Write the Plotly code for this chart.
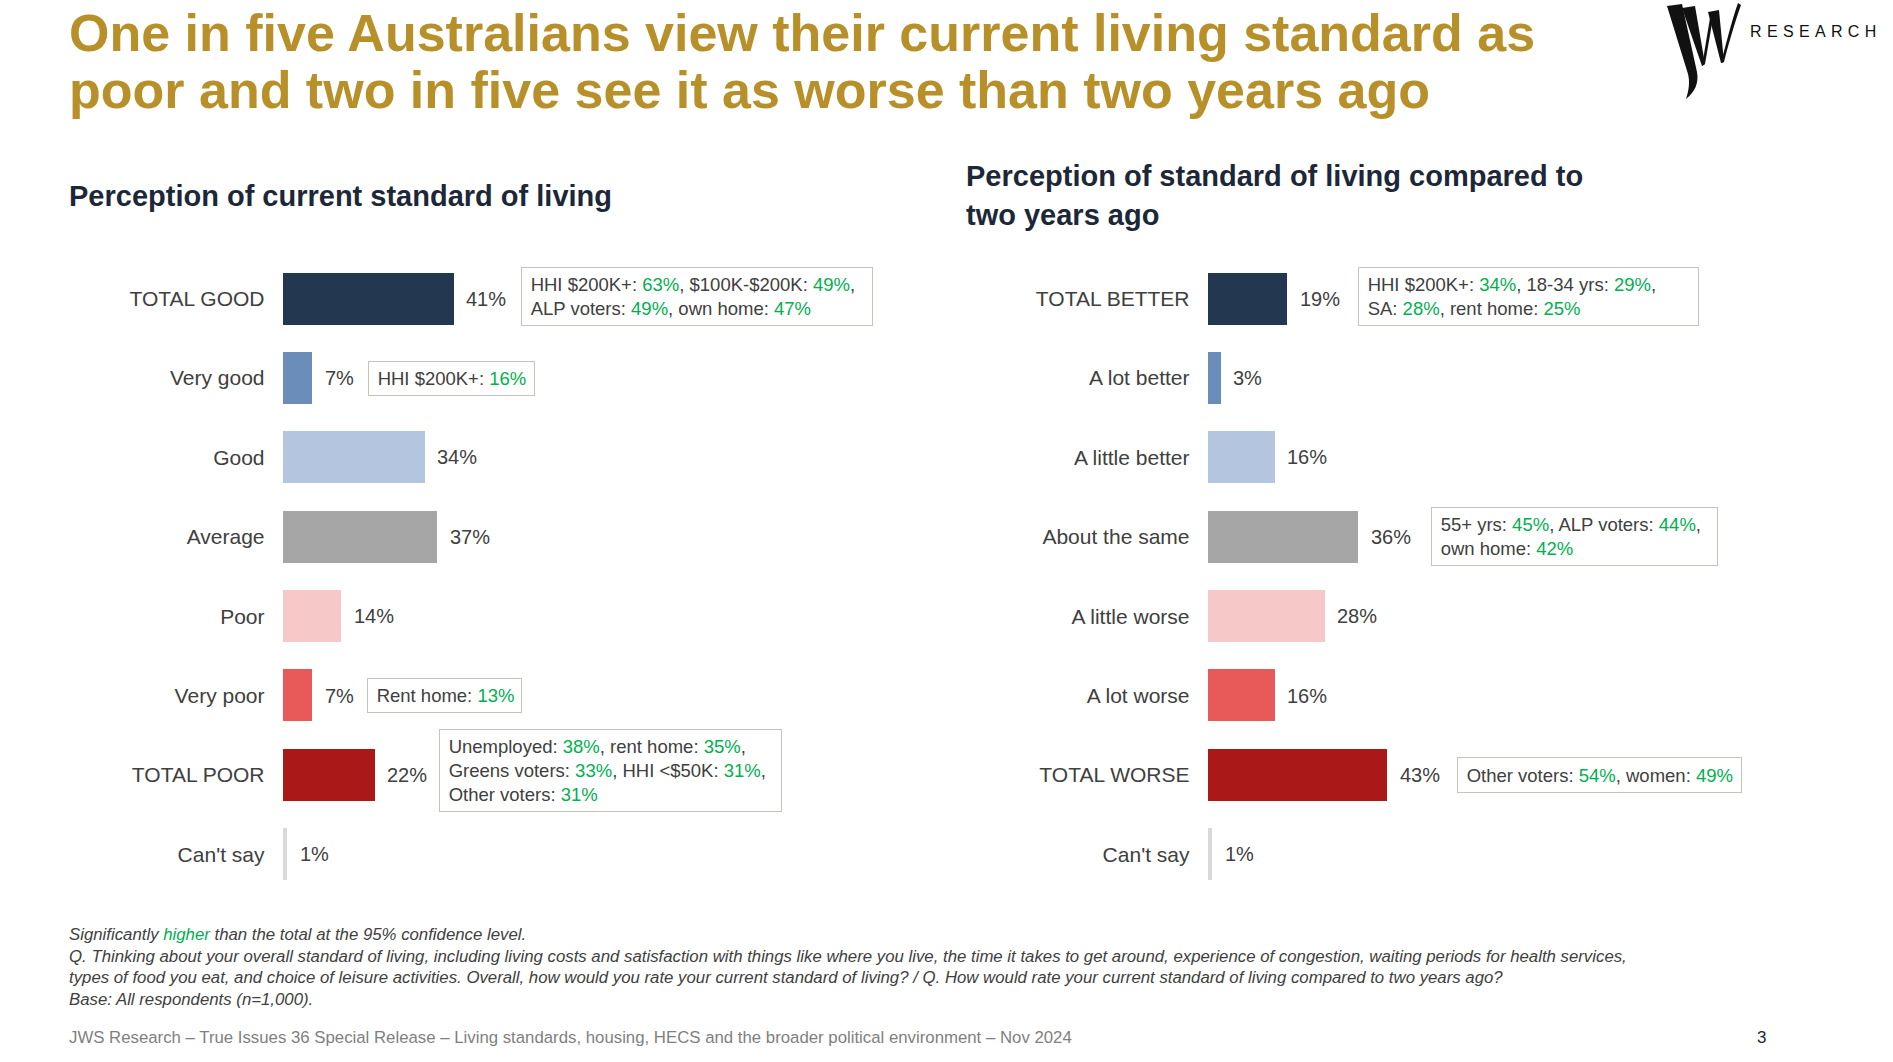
import plotly.graph_objects as go

W, H = 1893, 1062
FONT = "Liberation Sans, Arial, sans-serif"

# ------------------------------------------------------------------ data
left_categories = ["TOTAL GOOD", "Very good", "Good", "Average", "Poor",
                   "Very poor", "TOTAL POOR", "Can't say"]
left_values = [41, 7, 34, 37, 14, 7, 22, 1]

right_categories = ["TOTAL BETTER", "A lot better", "A little better", "About the same",
                    "A little worse", "A lot worse", "TOTAL WORSE", "Can't say"]
right_values = [19, 3, 16, 36, 28, 16, 43, 1]

bar_colors = ["#243750", "#6A8DBA", "#B4C6DF", "#A6A6A6",
              "#F7C8C8", "#E85A5A", "#AA1818", "#D9D9D9"]

# significantly-higher sub-groups (label, %), one inner list per text line
left_callouts = {
    "TOTAL GOOD": [[("HHI $200K+", 63), ("$100K-$200K", 49)],
                   [("ALP voters", 49), ("own home", 47)]],
    "Very good": [[("HHI $200K+", 16)]],
    "Very poor": [[("Rent home", 13)]],
    "TOTAL POOR": [[("Unemployed", 38), ("rent home", 35)],
                   [("Greens voters", 33), ("HHI <$50K", 31)],
                   [("Other voters", 31)]],
}
right_callouts = {
    "TOTAL BETTER": [[("HHI $200K+", 34), ("18-34 yrs", 29)],
                     [("SA", 28), ("rent home", 25)]],
    "About the same": [[("55+ yrs", 45), ("ALP voters", 44)],
                       [("own home", 42)]],
    "TOTAL WORSE": [[("Other voters", 54), ("women", 49)]],
}

title_lines = ["One in five Australians view their current living standard as",
               "poor and two in five see it as worse than two years ago"]
left_subtitle = ["Perception of current standard of living"]
right_subtitle = ["Perception of standard of living compared to", "two years ago"]

note_lines = [
    "Q. Thinking about your overall standard of living, including living costs and satisfaction with things like where you live, the time it takes to get around, experience of congestion, waiting periods for health services,",
    "types of food you eat, and choice of leisure activities. Overall, how would you rate your current standard of living? / Q. How would rate your current standard of living compared to two years ago?",
    "Base: All respondents (n=1,000).",
]
source_text = "JWS Research \u2013 True Issues 36 Special Release \u2013 Living standards, housing, HECS and the broader political environment \u2013 Nov 2024"
page_number = "3"

# ------------------------------------------------------------------ layout / style
GOLD = "#B8902A"
NAVY = "#1C2738"
TEXT = "#404040"
GREEN = "#00B050"
BOX = "#C4C4BA"
OFF = 0  # page body margin is removed by the post script below

PX_PER_PCT = 4.17
LEFT_X0, RIGHT_X0 = 282.5, 1207.5
Y_TOP, Y_BOT = 259.1, 893.9
CALLOUT_FONT = 18.5

# callout box geometry in pixels: xshift from bar end, outer width, outer height, yshift
callout_geom = {
    "TOTAL GOOD": (68, 352, 57, 2),
    "Very good": (56, 167, 34, 0),
    "Very poor": (55, 155, 32, 0),
    "TOTAL POOR": (65, 343, 78, 4),
    "TOTAL BETTER": (71, 341, 57, 2),
    "About the same": (73, 287, 56, 0),
    "TOTAL WORSE": (70, 285, 36, 0),
}


def px(x):
    return (x - OFF) / W


def py(y):
    return 1 - (y - OFF) / H


def green(s):
    return f"<span style='color:{GREEN}'>{s}</span>"


def callout_text(lines):
    out = []
    for line in lines:
        parts = [f"{lab.replace('<', '&lt;')}: {green(str(v) + '%')}" for lab, v in line]
        out.append("\u2005" + ", ".join(parts))
    return ",<br>".join(out)


fig = go.Figure()
for cats, vals, xa, ya in [(left_categories, left_values, "x", "y"),
                           (right_categories, right_values, "x2", "y2")]:
    fig.add_trace(go.Bar(
        x=vals, y=cats, orientation="h", xaxis=xa, yaxis=ya,
        marker=dict(color=bar_colors, line=dict(width=0)),
        width=0.655, hoverinfo="skip", showlegend=False,
    ))

ydom = [py(Y_BOT), py(Y_TOP)]
span = 100 * PX_PER_PCT
axis_y = dict(domain=ydom, type="category", range=[7.5, -0.5], showgrid=False,
              zeroline=False, showline=False, ticks="", ticklabelstandoff=17,
              tickfont=dict(family=FONT, size=21, color=TEXT), fixedrange=True)
fig.update_layout(
    width=W, height=H, margin=dict(l=0, r=0, t=0, b=0),
    paper_bgcolor="white", plot_bgcolor="white", bargap=0,
    font=dict(family=FONT, color=TEXT),
    xaxis=dict(domain=[px(LEFT_X0), px(LEFT_X0 + span)], range=[0, 100], visible=False, fixedrange=True),
    xaxis2=dict(domain=[px(RIGHT_X0), px(RIGHT_X0 + span)], range=[0, 100], visible=False, fixedrange=True),
    yaxis=dict(axis_y, anchor="x", categoryarray=left_categories, categoryorder="array"),
    yaxis2=dict(axis_y, anchor="x2", categoryarray=right_categories, categoryorder="array"),
)

ann = []
# value labels + callouts
for cats, vals, calls, xa, ya in [(left_categories, left_values, left_callouts, "x", "y"),
                                  (right_categories, right_values, right_callouts, "x2", "y2")]:
    for c, v in zip(cats, vals):
        ann.append(dict(x=v, y=c, xref=xa, yref=ya, text=f"{v}%", showarrow=False,
                        xanchor="left", yanchor="middle", xshift=11,
                        font=dict(family=FONT, size=20, color=TEXT)))
        if c in calls:
            xs, bw, bh, ys = callout_geom[c]
            pad = 4
            n = len(calls[c])
            inner_h = max(bh - 2 * (pad + 1), n * 1.3 * CALLOUT_FONT + 1)
            ann.append(dict(x=v, y=c, xref=xa, yref=ya, text=callout_text(calls[c]),
                            showarrow=False, xanchor="left", yanchor="middle",
                            xshift=xs, yshift=ys, align="left", valign="middle",
                            width=bw - 2 * (pad + 1), height=inner_h,
                            borderpad=pad, borderwidth=1, bordercolor=BOX, bgcolor="white",
                            font=dict(family=FONT, size=CALLOUT_FONT, color=TEXT)))

# titles
for line, y in zip(title_lines, [33, 90]):
    ann.append(dict(x=px(67), y=py(y), xref="paper", yref="paper", text=f"<b>{line}</b>",
                    showarrow=False, xanchor="left", yanchor="middle",
                    font=dict(family=FONT, size=52, color=GOLD)))
for line, y in zip(left_subtitle, [195.6]):
    ann.append(dict(x=px(67), y=py(y), xref="paper", yref="paper", text=f"<b>{line}</b>",
                    showarrow=False, xanchor="left", yanchor="middle",
                    font=dict(family=FONT, size=29, color=NAVY)))
for line, y in zip(right_subtitle, [176.3, 215]):
    ann.append(dict(x=px(964), y=py(y), xref="paper", yref="paper", text=f"<b>{line}</b>",
                    showarrow=False, xanchor="left", yanchor="middle",
                    font=dict(family=FONT, size=29, color=NAVY)))

# notes
ann.append(dict(x=px(67), y=py(934.5), xref="paper", yref="paper",
                text=f"<i>Significantly {green('higher')} than the total at the 95% confidence level.</i>",
                showarrow=False, xanchor="left", yanchor="middle",
                font=dict(family=FONT, size=16.8, color=TEXT)))
for line, y in zip(note_lines, [956.2, 977.9, 999.6]):
    ann.append(dict(x=px(67), y=py(y), xref="paper", yref="paper", text=f"<i>{line}</i>",
                    showarrow=False, xanchor="left", yanchor="middle",
                    font=dict(family=FONT, size=16.8, color=TEXT)))
ann.append(dict(x=px(67), y=py(1037), xref="paper", yref="paper", text=source_text,
                showarrow=False, xanchor="left", yanchor="middle",
                font=dict(family=FONT, size=16.8, color="#7F7F7F")))
ann.append(dict(x=px(1761), y=py(1037), xref="paper", yref="paper", text=page_number,
                showarrow=False, xanchor="center", yanchor="middle",
                font=dict(family=FONT, size=17, color=NAVY)))

# logo text
ann.append(dict(x=px(1748), y=py(32), xref="paper", yref="paper",
                text="\u2004".join("RESEARCH"), showarrow=False, xanchor="left", yanchor="middle",
                font=dict(family=FONT, size=16, color="#111111")))
fig.update_layout(annotations=ann)


def path(pts_cmd):
    # pts_cmd: list of (cmd, [(x,y),...]) in pixel coords
    s = ""
    for cmd, pts in pts_cmd:
        s += cmd + " ".join(f"{px(x):.5f},{py(y):.5f}" for x, y in pts) + " "
    return s + "Z"


logo_paths = [
    [("M", [(1667, 6)]), ("L", [(1682, 4)]), ("L", [(1697, 72)]),
     ("C", [(1699, 83), (1695, 92), (1686, 99)]), ("C", [(1689, 90), (1690, 82), (1688, 74)])],
    [("M", [(1682, 8)]), ("L", [(1695, 6)]), ("L", [(1705, 64)]), ("L", [(1702, 66)])],
    [("M", [(1702, 66)]), ("L", [(1711, 12)]), ("L", [(1714, 12)]), ("L", [(1705, 64)])],
    [("M", [(1708, 12)]), ("L", [(1719, 10)]), ("L", [(1724, 62)]), ("L", [(1721, 63)])],
    [("M", [(1721, 63)]), ("C", [(1727, 40), (1732, 20), (1738, 3)]), ("L", [(1741, 5)]),
     ("C", [(1735, 22), (1729, 42), (1724, 62)])],
]
for p in logo_paths:
    fig.add_shape(type="path", path=path(p), xref="paper", yref="paper",
                  fillcolor="#111111", line=dict(width=0))

fig.write_html("out.html", config={"displayModeBar": False},
               post_script="document.body.style.margin='0px';")
